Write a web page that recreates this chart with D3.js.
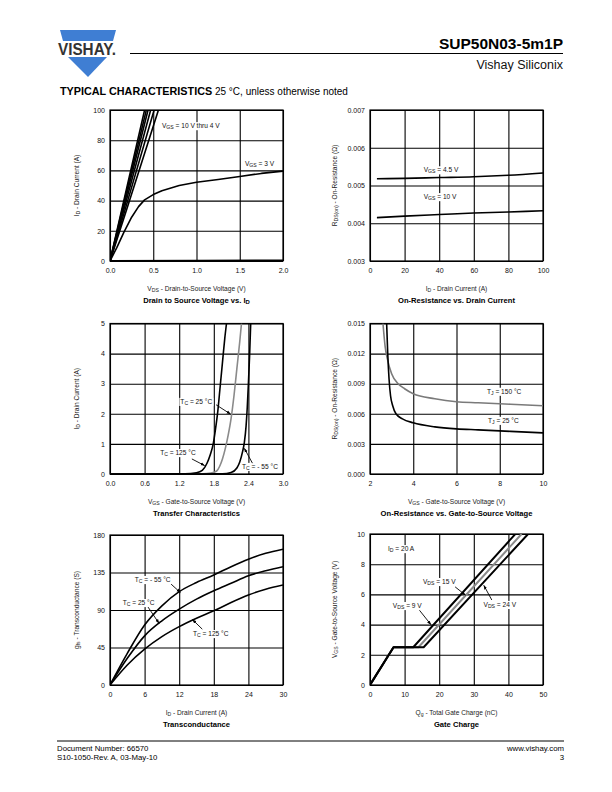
<!DOCTYPE html>
<html><head><meta charset="utf-8">
<script src="https://cdn.jsdelivr.net/npm/d3@7"></script>
<style>body{margin:0;background:#fff}svg{display:block;font-family:"Liberation Sans",Arial,Helvetica,sans-serif}</style>
</head><body><svg id="c" width="612" height="792"></svg>
<script>
// ---------- DATA ----------
// Chart 1: Output characteristics (VDS [V], ID [A])
const c1_vgs10 = [[0,0],[0.2,50],[0.40,100]];
const c1_vgs8  = [[0,0],[0.2,48],[0.42,100]];
const c1_vgs6  = [[0,0],[0.2,45.5],[0.44,100]];
const c1_vgs5  = [[0,0],[0.2,42.5],[0.47,100]];
const c1_vgs4a = [[0,0],[0.2,39],[0.51,100]];
const c1_vgs4  = [[0,0],[0.2,35.5],[0.56,100]];
const c1_vgs3  = [[0,0],[0.08,9],[0.16,19],[0.25,29],[0.33,36],[0.4,40.5],[0.5,44],[0.6,46.5],[0.8,50],[1.0,52.2],[1.25,54],[1.5,56],[1.75,58],[2.0,59.5]];
const c1_vgs2  = [[0,0],[1.0,0.2],[2.0,0.4]];
const c1_xTicks = [0,0.5,1.0,1.5,2.0];
const c1_yTicks = [0,20,40,60,80,100];

// Chart 2: RDS(on) vs ID
const c2_vgs45 = [[4,0.00518],[20,0.00519],[40,0.00521],[60,0.00523],[80,0.00527],[100,0.00533]];
const c2_vgs10 = [[4,0.00415],[20,0.00419],[40,0.00423],[60,0.00427],[80,0.00430],[100,0.00433]];
const c2_xTicks = [0,20,40,60,80,100];
const c2_yTicks = [0.003,0.004,0.005,0.006,0.007];

// Chart 3: Transfer characteristics (VGS [V], ID [A])
const c3_tc125 = [[0,0],[1.3,0.005],[1.5,0.04],[1.6,0.12],[1.68,0.35],[1.74,0.65],[1.79,1.0],[1.83,1.5],[1.87,2.1],[1.91,2.9],[1.95,3.7],[1.99,4.5],[2.02,5]];
const c3_tc25  = [[0,0],[1.6,0.005],[1.75,0.03],[1.85,0.1],[1.9,0.25],[1.95,0.5],[2.0,0.85],[2.05,1.3],[2.1,1.85],[2.15,2.6],[2.2,3.5],[2.25,4.4],[2.28,5]];
const c3_tcm55 = [[0,0],[1.95,0.005],[2.1,0.05],[2.2,0.2],[2.25,0.4],[2.3,0.75],[2.33,1.05],[2.36,1.6],[2.38,2.2],[2.4,3.0],[2.42,3.9],[2.44,5]];
const c3_xTicks = [0,0.6,1.2,1.8,2.4,3.0];
const c3_yTicks = [0,1,2,3,4,5];

// Chart 4: RDS(on) vs VGS
const c4_tj150 = [[2.6,0.015],[2.7,0.0127],[2.8,0.0115],[3.0,0.0100],[3.3,0.0090],[3.6,0.0085],[4,0.0080],[5,0.0075],[6,0.0072],[7,0.0071],[8,0.0070],[9,0.0069],[10,0.0068]];
const c4_tj25  = [[2.77,0.015],[2.82,0.012],[2.88,0.0095],[2.95,0.0078],[3.05,0.0068],[3.2,0.0060],[3.5,0.0055],[4,0.0051],[5,0.0047],[6,0.0045],[7,0.0044],[8,0.0043],[9,0.0042],[10,0.0041]];
const c4_xTicks = [2,4,6,8,10];
const c4_yTicks = [0,0.003,0.006,0.009,0.012,0.015];

// Chart 5: Transconductance (ID [A], gfs [S])
const c5_tcm55 = [[0,0],[3,38],[6,72],[9,95],[12,112],[15,123],[18,132],[21,142],[24,151],[27,158],[30,163]];
const c5_tc25  = [[0,0],[3,32],[6,59],[9,77],[12,91],[15,103],[18,113],[21,122],[24,131],[27,137],[30,142]];
const c5_tc125 = [[0,0],[3,24],[6,43],[9,58],[12,70],[15,80],[18,89],[21,99],[24,108],[27,115],[30,120]];
const c5_xTicks = [0,6,12,18,24,30];
const c5_yTicks = [0,45,90,135,180];

// Chart 6: Gate charge (Qg [nC], VGS [V])
const c6_vds9  = [[0,0],[6.8,2.5],[12.5,2.5],[42,10]];
const c6_vds15 = [[0,0],[6.8,2.5],[14,2.5],[43.8,10]];
const c6_vds24 = [[0,0],[6.8,2.5],[15.5,2.5],[45.7,10]];
const c6_xTicks = [0,10,20,30,40,50];
const c6_yTicks = [0,2,4,6,8,10];

// ---------- DRAW ----------
const svg = d3.select("#c");
const FONT = '"Liberation Sans",Arial,Helvetica,sans-serif';

function richText(sel, parts, size){
  parts.forEach(p=>{
    const t = sel.append("tspan").text(p[0]);
    if(p[1]==="sub"){ t.attr("font-size", size*0.78).attr("baseline-shift","-22%"); }
  });
  return sel;
}

// header
const logo = svg.append("g");
logo.append("path").attr("d","M60,30 L116,30 L113,41 L63,41 Z").attr("fill","#3f7ed3");
logo.append("path").attr("d","M68,57 L107,57 L88,77 Z").attr("fill","#3f7ed3");
logo.append("text").attr("x",58).attr("y",55).attr("font-size",16).attr("font-weight","bold")
  .attr("fill","#333").attr("textLength",58).attr("lengthAdjust","spacingAndGlyphs").text("VISHAY.");
svg.append("text").attr("x",563).attr("y",49).attr("text-anchor","end").attr("font-size",15.5)
  .attr("font-weight","bold").attr("fill","#000").text("SUP50N03-5m1P");
svg.append("line").attr("x1",130).attr("x2",563).attr("y1",53.5).attr("y2",53.5).attr("stroke","#000").attr("stroke-width",1.2);
svg.append("text").attr("x",563).attr("y",69).attr("text-anchor","end").attr("font-size",12.5).attr("fill","#111").text("Vishay Siliconix");
const tc = svg.append("text").attr("x",60).attr("y",95).attr("fill","#000");
tc.append("tspan").attr("font-size",10.8).attr("font-weight","bold").text("TYPICAL CHARACTERISTICS");
tc.append("tspan").attr("font-size",10).text(" 25 °C, unless otherwise noted");

// footer
svg.append("line").attr("x1",57).attr("x2",564).attr("y1",741).attr("y2",741).attr("stroke","#000").attr("stroke-width",1);
[["Document Number: 66570",751],["S10-1050-Rev. A, 03-May-10",760]].forEach(d=>{
  svg.append("text").attr("x",57).attr("y",d[1]).attr("font-size",7.8).text(d[0]);
});
[["www.vishay.com",751],["3",760]].forEach(d=>{
  svg.append("text").attr("x",564).attr("y",d[1]).attr("font-size",7.8).attr("text-anchor","end").text(d[0]);
});

// arrow marker
svg.append("defs").append("marker").attr("id","arr").attr("viewBox","0 0 10 10").attr("refX",9).attr("refY",5)
  .attr("markerWidth",5).attr("markerHeight",5).attr("orient","auto")
  .append("path").attr("d","M0,1.5 L10,5 L0,8.5 Z").attr("fill","#000");

let clipId = 0;
function chart(cfg){
  const w = cfg.x1-cfg.x0, h = cfg.y1-cfg.y0;
  const x = d3.scaleLinear().domain(cfg.xd).range([cfg.x0,cfg.x1]);
  const y = d3.scaleLinear().domain(cfg.yd).range([cfg.y1,cfg.y0]);
  const g = svg.append("g");
  // grid
  const gx = g.append("g").attr("transform",`translate(0,${cfg.y1})`)
    .call(d3.axisBottom(x).tickValues(cfg.xt).tickSize(-h).tickFormat(""));
  const gy = g.append("g").attr("transform",`translate(${cfg.x0},0)`)
    .call(d3.axisLeft(y).tickValues(cfg.yt).tickSize(-w).tickFormat(""));
  [gx,gy].forEach(a=>{a.select(".domain").remove(); a.selectAll("line").attr("stroke","#000").attr("stroke-width",1.1);});
  // tick labels
  const lx = g.append("g").attr("transform",`translate(0,${cfg.y1})`)
    .call(d3.axisBottom(x).tickValues(cfg.xt).tickSize(0).tickPadding(7).tickFormat(cfg.xf));
  const ly = g.append("g").attr("transform",`translate(${cfg.x0},0)`)
    .call(d3.axisLeft(y).tickValues(cfg.yt).tickSize(0).tickPadding(5).tickFormat(cfg.yf));
  [lx,ly].forEach(a=>{a.select(".domain").remove(); a.selectAll("text").attr("font-size",7).attr("font-family",FONT).attr("fill","#111");});
  // border
  g.append("rect").attr("x",cfg.x0).attr("y",cfg.y0).attr("width",w).attr("height",h)
    .attr("fill","none").attr("stroke","#000").attr("stroke-width",1.2);
  // clip
  const id = "clip"+(clipId++);
  svg.select("defs").append("clipPath").attr("id",id).append("rect")
    .attr("x",cfg.x0).attr("y",cfg.y0).attr("width",w).attr("height",h);
  const line = d3.line().x(d=>x(d[0])).y(d=>y(d[1])).curve(cfg.curve||d3.curveMonotoneX);
  const sg = g.append("g").attr("clip-path",`url(#${id})`);
  cfg.series.forEach(s=>{
    sg.append("path").datum(s.data).attr("d",line).attr("fill","none")
      .attr("stroke",s.color||"#000").attr("stroke-width",s.sw||1.6).attr("stroke-linejoin","round");
  });
  // labels with white background
  (cfg.labels||[]).forEach(l=>{
    const lg = g.append("g");
    const bg = lg.append("rect").attr("fill","#fff");
    const t = richText(lg.append("text").attr("x",x(l.x)).attr("y",y(l.y)).attr("font-size",6.6).attr("fill","#111"), l.parts, 6.6);
    const b = t.node().getBBox();
    bg.attr("x",b.x-1).attr("y",b.y).attr("width",b.width+2).attr("height",b.height);
  });
  (cfg.leaders||[]).forEach(l=>{
    g.append("line").attr("x1",x(l[0])).attr("y1",y(l[1])).attr("x2",x(l[2])).attr("y2",y(l[3]))
      .attr("stroke","#000").attr("stroke-width",0.9).attr("marker-end","url(#arr)");
  });
  // axis titles
  const cx = (cfg.x0+cfg.x1)/2, cy = (cfg.y0+cfg.y1)/2;
  richText(g.append("text").attr("x",cx).attr("y",cfg.y1+29.5).attr("text-anchor","middle").attr("font-size",6.6).attr("fill","#222"), cfg.xTitle, 6.6);
  richText(g.append("text").attr("x",cx).attr("y",cfg.y1+41.5).attr("text-anchor","middle").attr("font-size",7.6).attr("font-weight","bold").attr("fill","#000"), cfg.title, 7.6);
  richText(g.append("text").attr("transform",`translate(${cfg.ytx},${cy}) rotate(-90)`).attr("text-anchor","middle").attr("font-size",6.6).attr("fill","#222"), cfg.yTitle, 6.6);
}

const L = {x0:110,x1:283,ytx:79}, R = {x0:370,x1:543,ytx:337};

chart({...L, y0:110, y1:261, xd:[0,2], yd:[0,100], xt:c1_xTicks, yt:c1_yTicks,
  xf:d3.format(".1f"), yf:d3.format("d"), curve:d3.curveLinear,
  series:[{data:c1_vgs10},{data:c1_vgs8},{data:c1_vgs6},{data:c1_vgs5},{data:c1_vgs4a},{data:c1_vgs4},
          {data:c1_vgs3},{data:c1_vgs2, sw:2}],
  labels:[{x:0.60,y:88,parts:[["V",""],["GS","sub"],[" = 10 V thru 4 V",""]]},
          {x:1.56,y:63,parts:[["V",""],["GS","sub"],[" = 3 V",""]]}],
  xTitle:[["V",""],["DS","sub"],[" - Drain-to-Source Voltage (V)",""]],
  yTitle:[["I",""],["D","sub"],[" - Drain Current (A)",""]],
  title:[["Drain to Source Voltage vs. I",""],["D","sub"]]});

chart({...R, y0:110, y1:261, xd:[0,100], yd:[0.003,0.007], xt:c2_xTicks, yt:c2_yTicks,
  xf:d3.format("d"), yf:d3.format(".3f"),
  series:[{data:c2_vgs45},{data:c2_vgs10}],
  labels:[{x:31,y:0.00535,parts:[["V",""],["GS","sub"],[" = 4.5 V",""]]},
          {x:31,y:0.00464,parts:[["V",""],["GS","sub"],[" = 10 V",""]]}],
  xTitle:[["I",""],["D","sub"],[" - Drain Current (A)",""]],
  yTitle:[["R",""],["DS(on)","sub"],[" - On-Resistance (Ω)",""]],
  title:[["On-Resistance vs. Drain Current",""]]});

chart({...L, y0:323.5, y1:474, xd:[0,3], yd:[0,5], xt:c3_xTicks, yt:c3_yTicks,
  xf:d3.format(".1f"), yf:d3.format("d"),
  series:[{data:c3_tc25,color:"#8a8a8a"},{data:c3_tc125},{data:c3_tcm55}],
  labels:[{x:1.22,y:2.33,parts:[["T",""],["C","sub"],[" = 25 °C",""]]},
          {x:0.87,y:0.63,parts:[["T",""],["C","sub"],[" = 125 °C",""]]},
          {x:2.29,y:0.17,parts:[["T",""],["C","sub"],[" = - 55 °C",""]]}],
  leaders:[[1.84,2.3,2.09,1.99],[1.42,0.5,1.64,0.28],[2.47,0.36,2.33,0.85]],
  xTitle:[["V",""],["GS","sub"],[" - Gate-to-Source Voltage (V)",""]],
  yTitle:[["I",""],["D","sub"],[" - Drain Current (A)",""]],
  title:[["Transfer Characteristics",""]]});

chart({...R, y0:323.5, y1:474, xd:[2,10], yd:[0,0.015], xt:c4_xTicks, yt:c4_yTicks,
  xf:d3.format("d"), yf:d3.format(".3f"),
  series:[{data:c4_tj150,color:"#7a7a7a"},{data:c4_tj25}],
  labels:[{x:7.41,y:0.0080,parts:[["T",""],["J","sub"],[" = 150 °C",""]]},
          {x:7.46,y:0.0051,parts:[["T",""],["J","sub"],[" = 25 °C",""]]}],
  xTitle:[["V",""],["GS","sub"],[" - Gate-to-Source Voltage (V)",""]],
  yTitle:[["R",""],["DS(on)","sub"],[" - On-Resistance (Ω)",""]],
  title:[["On-Resistance vs. Gate-to-Source Voltage",""]]});

chart({...L, y0:535, y1:685, xd:[0,30], yd:[0,180], xt:c5_xTicks, yt:c5_yTicks,
  xf:d3.format("d"), yf:d3.format("d"),
  series:[{data:c5_tcm55},{data:c5_tc25},{data:c5_tc125}],
  labels:[{x:4.3,y:123.6,parts:[["T",""],["C","sub"],[" = - 55 °C",""]]},
          {x:2.2,y:96,parts:[["T",""],["C","sub"],[" = 25 °C",""]]},
          {x:14.4,y:58.8,parts:[["T",""],["C","sub"],[" = 125 °C",""]]}],
  leaders:[[10.6,121,12.2,111],[6.6,93.5,8.5,74],[16,67,14.3,78.5]],
  xTitle:[["I",""],["D","sub"],[" - Drain Current (A)",""]],
  yTitle:[["g",""],["fs","sub"],[" - Transconductance (S)",""]],
  title:[["Transconductance",""]]});

chart({...R, y0:534, y1:685, xd:[0,50], yd:[0,10], xt:c6_xTicks, yt:c6_yTicks,
  xf:d3.format("d"), yf:d3.format("d"), curve:d3.curveLinear,
  series:[{data:c6_vds15,color:"#8a8a8a",sw:2},{data:c6_vds9,sw:2},{data:c6_vds24,sw:2}],
  labels:[{x:5.2,y:8.87,parts:[["I",""],["D","sub"],[" = 20 A",""]]},
          {x:15.3,y:6.69,parts:[["V",""],["DS","sub"],[" = 15 V",""]]},
          {x:6.6,y:5.1,parts:[["V",""],["DS","sub"],[" = 9 V",""]]},
          {x:32.8,y:5.17,parts:[["V",""],["DS","sub"],[" = 24 V",""]]}],
  leaders:[[24.6,6.5,27.6,5.95],[14.3,4.95,17.6,4.0],[35.2,5.63,32.9,6.6]],
  xTitle:[["Q",""],["g","sub"],[" - Total Gate Charge (nC)",""]],
  yTitle:[["V",""],["GS","sub"],[" - Gate-to-Source Voltage (V)",""]],
  title:[["Gate Charge",""]]});
</script></body></html>
